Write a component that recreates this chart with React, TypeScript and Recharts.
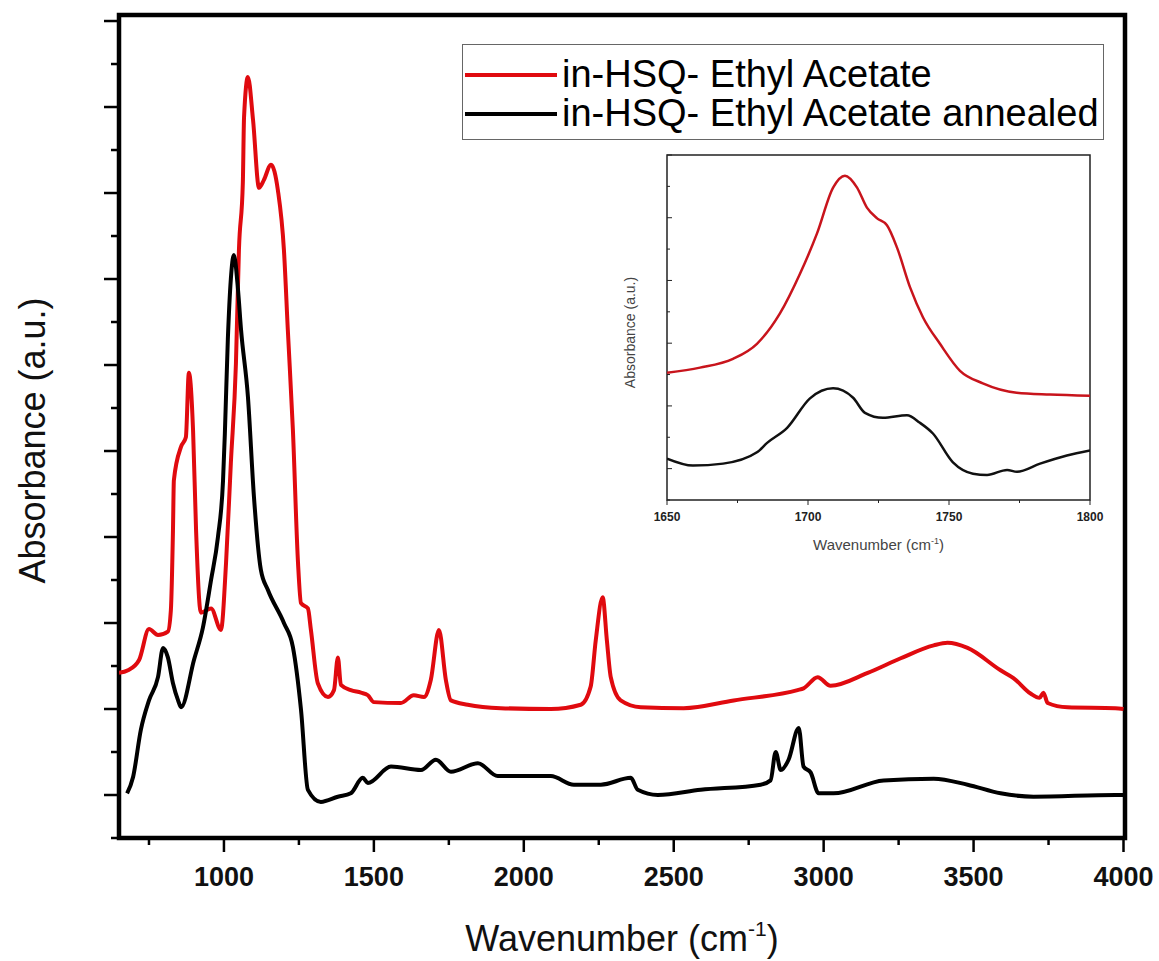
import React from "react"
import { Legend, Line, LineChart, ReferenceArea, XAxis, YAxis } from "recharts"

// main spectrum, red: as-deposited film
const redWavenumber = [
  650, 680, 717, 750, 780, 813, 823, 830, 833, 857, 873, 883, 897, 907, 923, 957, 990, 1007, 1023,
  1040, 1050, 1063, 1067, 1080, 1097, 1117, 1133, 1157, 1180, 1200, 1213, 1230, 1247, 1257, 1280,
  1290, 1313, 1347, 1367, 1380, 1390, 1423, 1457, 1480, 1500, 1590, 1633, 1667, 1690, 1717, 1740,
  1757, 1813, 1923, 2090, 2190, 2223, 2240, 2263, 2277, 2290, 2323, 2390, 2533, 2700, 2913, 2933,
  2980, 3023, 3147, 3257, 3367, 3413, 3480, 3590, 3633, 3690, 3720, 3733, 3747, 3813, 3973, 4000,
]
const redAbsorbance = [
  2.42, 2.45, 2.57, 2.93, 2.86, 2.9, 3.15, 4.08, 4.66, 5.05, 5.16, 5.91, 5.24, 4.08, 3.12, 3.17, 2.92,
  3.7, 4.86, 6.02, 7.34, 8.12, 8.88, 9.35, 8.85, 8.06, 8.15, 8.33, 8.03, 7.34, 6.41, 5.24, 3.7, 3.23,
  3.17, 2.92, 2.3, 2.14, 2.22, 2.6, 2.28, 2.22, 2.19, 2.16, 2.08, 2.07, 2.16, 2.14, 2.34, 2.92, 2.34,
  2.1, 2.05, 2.01, 2.0, 2.05, 2.26, 2.8, 3.3, 2.8, 2.37, 2.1, 2.02, 2.01, 2.1, 2.22, 2.24, 2.37, 2.27,
  2.42, 2.59, 2.74, 2.77, 2.71, 2.45, 2.36, 2.18, 2.13, 2.19, 2.07, 2.02, 2.01, 2.0,
]

// main spectrum, black: annealed film
const blackWavenumber = [
  677, 697, 723, 750, 780, 797, 813, 830, 847, 857, 900, 930, 957, 980, 997, 1003, 1013, 1023, 1033,
  1047, 1057, 1080, 1100, 1123, 1147, 1200, 1230, 1257, 1280, 1323, 1380, 1423, 1463, 1480, 1557,
  1657, 1707, 1757, 1847, 1913, 2090, 2167, 2257, 2357, 2380, 2447, 2590, 2790, 2823, 2840, 2857,
  2883, 2917, 2933, 2957, 2983, 3033, 3200, 3367, 3480, 3590, 3700, 3973, 4000,
]
const blackAbsorbance = [
  1.02, 1.21, 1.76, 2.1, 2.37, 2.71, 2.6, 2.3, 2.1, 2.02, 2.57, 2.95, 3.5, 4.0, 4.66, 5.2, 6.3, 7.0,
  7.28, 6.87, 6.41, 5.63, 4.47, 3.62, 3.38, 3.0, 2.72, 1.99, 1.06, 0.92, 0.98, 1.02, 1.2, 1.14, 1.33,
  1.29, 1.41, 1.27, 1.37, 1.22, 1.22, 1.12, 1.12, 1.2, 1.06, 1.0, 1.06, 1.12, 1.17, 1.5, 1.29, 1.41,
  1.78, 1.33, 1.26, 1.02, 1.02, 1.17, 1.19, 1.12, 1.02, 0.98, 1.0, 1.0,
]

// inset: C=O region
const insetRedWavenumber = [
  1650, 1661.7, 1673.4, 1681.9, 1690, 1697.2, 1703.2, 1708.9, 1713.1, 1717.4, 1720.9, 1724.5, 1728,
  1731.6, 1736.2, 1740.8, 1746.8, 1753.9, 1762, 1774, 1785.8, 1800,
]
const insetRedAbsorbance = [
  2.53, 2.61, 2.75, 2.99, 3.47, 4.11, 4.75, 5.48, 5.67, 5.48, 5.16, 4.99, 4.88, 4.52, 3.89, 3.41,
  2.99, 2.56, 2.36, 2.21, 2.18, 2.16,
]
const insetBlackWavenumber = [
  1650, 1659.2, 1669.9, 1681.9, 1685.5, 1692.6, 1700.7, 1708.9, 1716, 1720.2, 1726.6, 1735.1, 1739.7,
  1744.3, 1751.4, 1758.5, 1763.5, 1770.6, 1774.1, 1782.3, 1791.8, 1800,
]
const insetBlackAbsorbance = [
  1.16, 1.05, 1.08, 1.26, 1.41, 1.65, 2.12, 2.28, 2.13, 1.89, 1.81, 1.85, 1.73, 1.56, 1.1, 0.92, 0.9,
  0.98, 0.95, 1.08, 1.21, 1.29,
]

const xTicks = [750, 1000, 1250, 1500, 1750, 2000, 2250, 2500, 2750, 3000, 3250, 3500, 3750, 4000]
const yTicks = [0.5, 1, 1.5, 2, 2.5, 3, 3.5, 4, 4.5, 5, 5.5, 6, 6.5, 7, 7.5, 8, 8.5, 9, 9.5, 10]
const insetXTicks = [1650, 1675, 1700, 1725, 1750, 1775, 1800]
const insetYTicks = [0.5, 1, 1.5, 2, 2.5, 3, 3.5, 4, 4.5, 5, 5.5, 6]

const seriesNames = ["in-HSQ- Ethyl Acetate", "in-HSQ- Ethyl Acetate annealed"]

const toPoints = (xs: number[], ys: number[]) => xs.map((x, i) => ({ x, y: ys[i] }))

const redData = toPoints(redWavenumber, redAbsorbance)
const blackData = toPoints(blackWavenumber, blackAbsorbance)
const insetRedData = toPoints(insetRedWavenumber, insetRedAbsorbance)
const insetBlackData = toPoints(insetBlackWavenumber, insetBlackAbsorbance)

const FONT = "'Liberation Sans', Arial, Helvetica, sans-serif"
const RED = "#e00a0f"

function MainXTick({ x, y, payload }: any) {
  const major = payload.value % 500 === 0
  return (
    <g>
      <line x1={x} x2={x} y1={y} y2={y + (major ? 14 : 7)} stroke="#000" strokeWidth={2.5} />
      {major && (
        <text x={x} y={y + 48} textAnchor="middle" fontSize={27} fontWeight="bold" fontFamily={FONT} fill="#111">
          {payload.value}
        </text>
      )}
    </g>
  )
}

function MainYTick({ x, y, payload }: any) {
  const major = Number.isInteger(payload.value)
  return <line x1={x - (major ? 15 : 8)} x2={x} y1={y} y2={y} stroke="#000" strokeWidth={2.5} />
}

function InsetXTick({ x, y, payload }: any) {
  const major = payload.value % 50 === 0
  return (
    <g>
      <line x1={x} x2={x} y1={y} y2={y + (major ? 5 : 3)} stroke="#222" strokeWidth={1} />
      {major && (
        <text x={x} y={y + 21} textAnchor="middle" fontSize={12} fontWeight="bold" fontFamily={FONT} fill="#222">
          {payload.value}
        </text>
      )}
    </g>
  )
}

function InsetYTick({ x, y, payload }: any) {
  const major = Number.isInteger(payload.value)
  return <line x1={x} x2={x + (major ? 5 : 3)} y1={y} y2={y} stroke="#222" strokeWidth={1} />
}

function LegendBox({ payload }: any) {
  return (
    <div
      style={{
        width: 642,
        height: 96,
        border: "1px solid #666",
        background: "#fff",
        fontFamily: FONT,
        fontSize: 38,
        color: "#000",
        boxSizing: "border-box",
        paddingTop: 10,
      }}
    >
      {(payload ?? []).map((item: any) => (
        <div key={item.value} style={{ display: "flex", alignItems: "center", height: 39, whiteSpace: "nowrap" }}>
          <span style={{ display: "inline-block", width: 92, height: 4, background: item.color, marginLeft: 2, marginRight: 5 }} />
          {item.value}
        </div>
      ))}
    </div>
  )
}

export default function App() {
  return (
    <div style={{ position: "absolute", left: 0, top: 0, width: 1159, height: 961, background: "#fff" }}>
      <LineChart width={1159} height={961} margin={{ top: 15, right: 34, left: 0, bottom: 0 }}>
        <XAxis
          type="number"
          dataKey="x"
          domain={[650, 4005]}
          allowDataOverflow
          ticks={xTicks}
          interval={0}
          height={123}
          tickSize={0}
          tickMargin={0}
          axisLine={false}
          tickLine={false}
          tick={(props: any) => <MainXTick {...props} />}
          label={{
            content: ({ viewBox }: any) => (
              <text
                x={viewBox.x + viewBox.width / 2}
                y={viewBox.y + 113}
                textAnchor="middle"
                fontSize={36}
                fontFamily={FONT}
                fill="#111"
              >
                Wavenumber (cm
                <tspan dy={-15} fontSize={21}>-1</tspan>
                <tspan dy={15}>)</tspan>
              </text>
            ),
          }}
        />
        <YAxis
          type="number"
          domain={[0.5, 10.07]}
          allowDataOverflow
          ticks={yTicks}
          interval={0}
          width={119}
          tickSize={0}
          tickMargin={0}
          axisLine={false}
          tickLine={false}
          tick={(props: any) => <MainYTick {...props} />}
          label={{
            content: ({ viewBox }: any) => {
              const cx = 32
              const cy = viewBox.y + viewBox.height / 2 + 14
              return (
                <text
                  x={cx}
                  y={cy}
                  transform={`rotate(-90 ${cx} ${cy})`}
                  textAnchor="middle"
                  dominantBaseline="central"
                  fontSize={36}
                  fontFamily={FONT}
                  fill="#111"
                >
                  Absorbance (a.u.)
                </text>
              )
            },
          }}
        />
        <Line
          data={redData}
          dataKey="y"
          name={seriesNames[0]}
          type="monotone"
          stroke={RED}
          strokeWidth={4}
          dot={false}
          isAnimationActive={false}
        />
        <Line
          data={blackData}
          dataKey="y"
          name={seriesNames[1]}
          type="monotone"
          stroke="#000"
          strokeWidth={4}
          dot={false}
          isAnimationActive={false}
        />
        <ReferenceArea x1={650} x2={4005} y1={0.5} y2={10.07} fill="none" stroke="#000" strokeWidth={4.5} ifOverflow="visible" />
        <Legend
          layout="horizontal"
          verticalAlign="middle"
          align="center"
          wrapperStyle={{ left: 462, top: 44, width: 642 }}
          content={(props: any) => <LegendBox {...props} />}
        />
      </LineChart>

      <div style={{ position: "absolute", left: 590, top: 140 }}>
        <LineChart width={520} height={420} margin={{ top: 15, right: 20, left: 0, bottom: 0 }}>
          <XAxis
            type="number"
            dataKey="x"
            domain={[1650, 1800]}
            allowDataOverflow
            ticks={insetXTicks}
            interval={0}
            height={60}
            tickSize={0}
            tickMargin={0}
            axisLine={false}
            tickLine={false}
            tick={(props: any) => <InsetXTick {...props} />}
            label={{
              content: ({ viewBox }: any) => (
                <text
                  x={viewBox.x + viewBox.width / 2}
                  y={viewBox.y + 50}
                  textAnchor="middle"
                  fontSize={15}
                  fontFamily={FONT}
                  fill="#444"
                >
                  Wavenumber (cm
                  <tspan dy={-6} fontSize={9}>-1</tspan>
                  <tspan dy={6}>)</tspan>
                </text>
              ),
            }}
          />
          <YAxis
            type="number"
            domain={[0.5, 6]}
            allowDataOverflow
            ticks={insetYTicks}
            interval={0}
            width={77}
            tickSize={0}
            tickMargin={0}
            axisLine={false}
            tickLine={false}
            tick={(props: any) => <InsetYTick {...props} />}
            label={{
              content: ({ viewBox }: any) => {
                const cx = 40
                const cy = viewBox.y + viewBox.height / 2 + 5
                return (
                  <text
                    x={cx}
                    y={cy}
                    transform={`rotate(-90 ${cx} ${cy})`}
                    textAnchor="middle"
                    dominantBaseline="central"
                    fontSize={14}
                    fontFamily={FONT}
                    fill="#444"
                  >
                    Absorbance (a.u.)
                  </text>
                )
              },
            }}
          />
          <Line
            data={insetRedData}
            dataKey="y"
            type="monotone"
            stroke="#c8141c"
            strokeWidth={2.5}
            dot={false}
            isAnimationActive={false}
          />
          <Line
            data={insetBlackData}
            dataKey="y"
            type="monotone"
            stroke="#111"
            strokeWidth={2.5}
            dot={false}
            isAnimationActive={false}
          />
          <ReferenceArea x1={1650} x2={1800} y1={0.5} y2={6} fill="none" stroke="#222" strokeWidth={1.5} ifOverflow="visible" />
        </LineChart>
      </div>
    </div>
  )
}
